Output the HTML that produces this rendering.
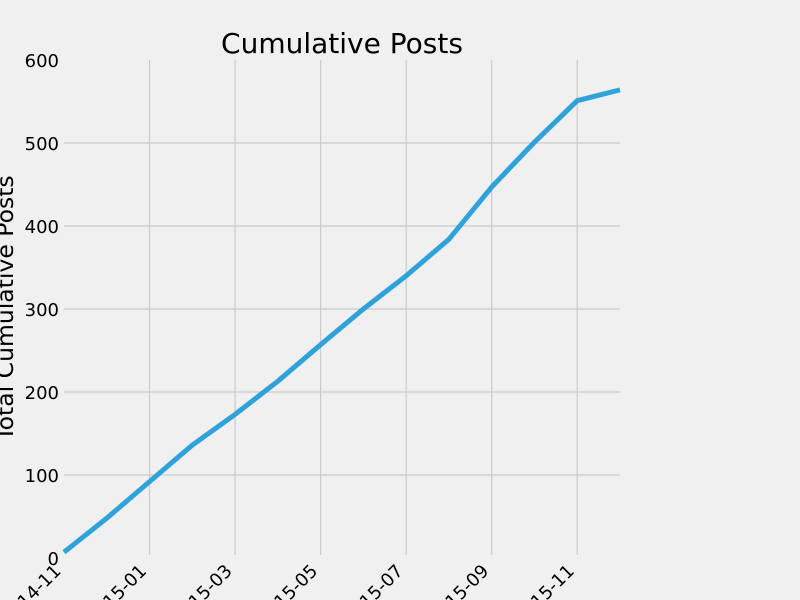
<!DOCTYPE html>
<html><head><meta charset="utf-8"><style>
body{margin:0;background:#f0f0f0;}
svg{display:block;font-family:"DejaVu Sans","Liberation Sans",sans-serif;}
</style></head><body>
<svg id="chart" width="800" height="600">
<rect width="800" height="600" fill="#f0f0f0"/>
<text x="342" y="53" font-size="28" text-anchor="middle" fill="#000">Cumulative Posts</text>
<text transform="translate(13,308) rotate(-90)" font-size="23.5" text-anchor="middle" fill="#000">Total Cumulative Posts</text>
<g id="grid"></g><g id="yticks"></g><g id="xticks"></g><g id="series"></g>
</svg>
<script>
const months=["2014-11","2014-12","2015-01","2015-02","2015-03","2015-04","2015-05","2015-06","2015-07","2015-08","2015-09","2015-10","2015-11","2015-12"];
const values=[7,48,92,136,173,213,257,300,340,384,447,501,551,564];
const yTicks=[0,100,200,300,400,500,600];
const xTickLabels=["2014-11","2015-01","2015-03","2015-05","2015-07","2015-09","2015-11"];
const NS="http://www.w3.org/2000/svg";
const X0=64,X1=620,Y0=558,Y1=60;
function xs(i){return X0+(X1-X0)*i/(months.length-1);}
function ys(v){return Y0-(Y0-Y1)*v/600;}
function mk(t,a,p){const e=document.createElementNS(NS,t);for(const k in a)e.setAttribute(k,a[k]);p.appendChild(e);return e;}
const grid=document.getElementById('grid'),yt=document.getElementById('yticks'),xt=document.getElementById('xticks'),se=document.getElementById('series');
yTicks.forEach(v=>{
 if(v>0&&v<600){const l=mk('line',{x1:X0,x2:X1,y1:ys(v),y2:ys(v),stroke:'#cbcbcb','stroke-width':1.2},grid);
 
 }
 const t=mk('text',{x:59,y:ys(v)+7,'font-size':18,'text-anchor':'end',fill:'#000'},yt);t.textContent=v;
 
 
});
xTickLabels.forEach(lab=>{
 const i=months.indexOf(lab);const x=xs(i);
 if(i>0){const l=mk('line',{x1:x,x2:x,y1:Y1,y2:555,stroke:'#cbcbcb','stroke-width':1.2},grid);
 
 }
 const t=mk('text',{transform:`translate(${x-2},${572}) rotate(-45)`,'font-size':18,'text-anchor':'end',fill:'#000'},xt);t.textContent=lab;
 
 
});
const p=mk('polyline',{points:values.map((v,i)=>xs(i)+','+ys(v)).join(' '),fill:'none',stroke:'#30a2da','stroke-width':5,'stroke-linejoin':'miter'},se);


</script>
</body></html>
